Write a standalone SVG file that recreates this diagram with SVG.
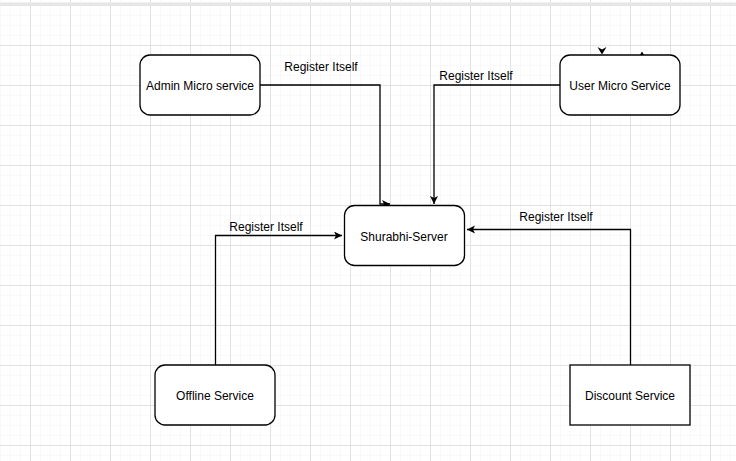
<svg xmlns="http://www.w3.org/2000/svg" width="736" height="461" viewBox="0 0 736 461">
  <defs>
    <pattern id="minor" patternUnits="userSpaceOnUse" x="0" y="5" width="10" height="10">
      <path d="M0 0H10M0 0V10" fill="none" stroke="#f4f4f4" stroke-width="1"/>
    </pattern>
    <pattern id="major" patternUnits="userSpaceOnUse" x="30" y="45" width="40" height="40">
      <path d="M0 0.5H40M0.5 0V40" fill="none" stroke="#e2e2e2" stroke-width="1"/>
    </pattern>
    <marker id="arr" markerWidth="10" markerHeight="10" refX="8" refY="4" orient="auto" markerUnits="userSpaceOnUse">
      <path d="M0 0L8 4L0 8L2 4Z" fill="#000"/>
    </marker>
    <style>
      .box{fill:#fff;stroke:#000;stroke-width:1.3}
      .t{font-family:"Liberation Sans",Arial,sans-serif;font-size:12px;fill:#000;text-anchor:middle;dominant-baseline:central}
      .edge{fill:none;stroke:#000;stroke-width:1.3}
    </style>
  </defs>
  <rect width="736" height="461" fill="#fff"/>
  <rect width="736" height="461" fill="url(#minor)"/>
  <rect width="736" height="461" fill="url(#major)"/>
  <rect x="0" y="2.5" width="736" height="3" fill="#e6e6e6"/>

  <g id="connectors">
    <path class="edge" d="M260 85H380V204H390" marker-end="url(#arr)"/>
    <path class="edge" d="M560 85H434V204" marker-end="url(#arr)"/>
    <path class="edge" d="M215.5 365V235.5H342" marker-end="url(#arr)"/>
    <path class="edge" d="M630.5 365V229.5H467" marker-end="url(#arr)"/>
    <path d="M597.5 47L602 49.5L606.5 47L602 54.5Z" fill="#000"/>
    <path d="M637.5 59L642 56.5L646.5 59L642 51.5Z" fill="#000"/>
    <text class="t" x="321" y="67">Register Itself</text>
    <text class="t" x="476" y="76">Register Itself</text>
    <text class="t" x="266" y="227">Register Itself</text>
    <text class="t" x="556" y="217">Register Itself</text>
  </g>

  <g id="admin">
    <rect class="box" x="140" y="55" width="120" height="60" rx="10"/>
    <text class="t" x="200" y="86">Admin Micro service</text>
  </g>
  <g id="user">
    <rect class="box" x="560" y="55" width="120" height="60" rx="10"/>
    <text class="t" x="620" y="86">User Micro Service</text>
  </g>
  <g id="server">
    <rect class="box" x="344.5" y="205.5" width="120" height="60" rx="10"/>
    <text class="t" x="404" y="236.5">Shurabhi-Server</text>
  </g>
  <g id="offline">
    <rect class="box" x="155" y="365" width="120" height="60" rx="10"/>
    <text class="t" x="215" y="396">Offline Service</text>
  </g>
  <g id="discount">
    <rect class="box" x="570" y="365" width="120" height="60"/>
    <text class="t" x="630" y="396">Discount Service</text>
  </g>
</svg>
